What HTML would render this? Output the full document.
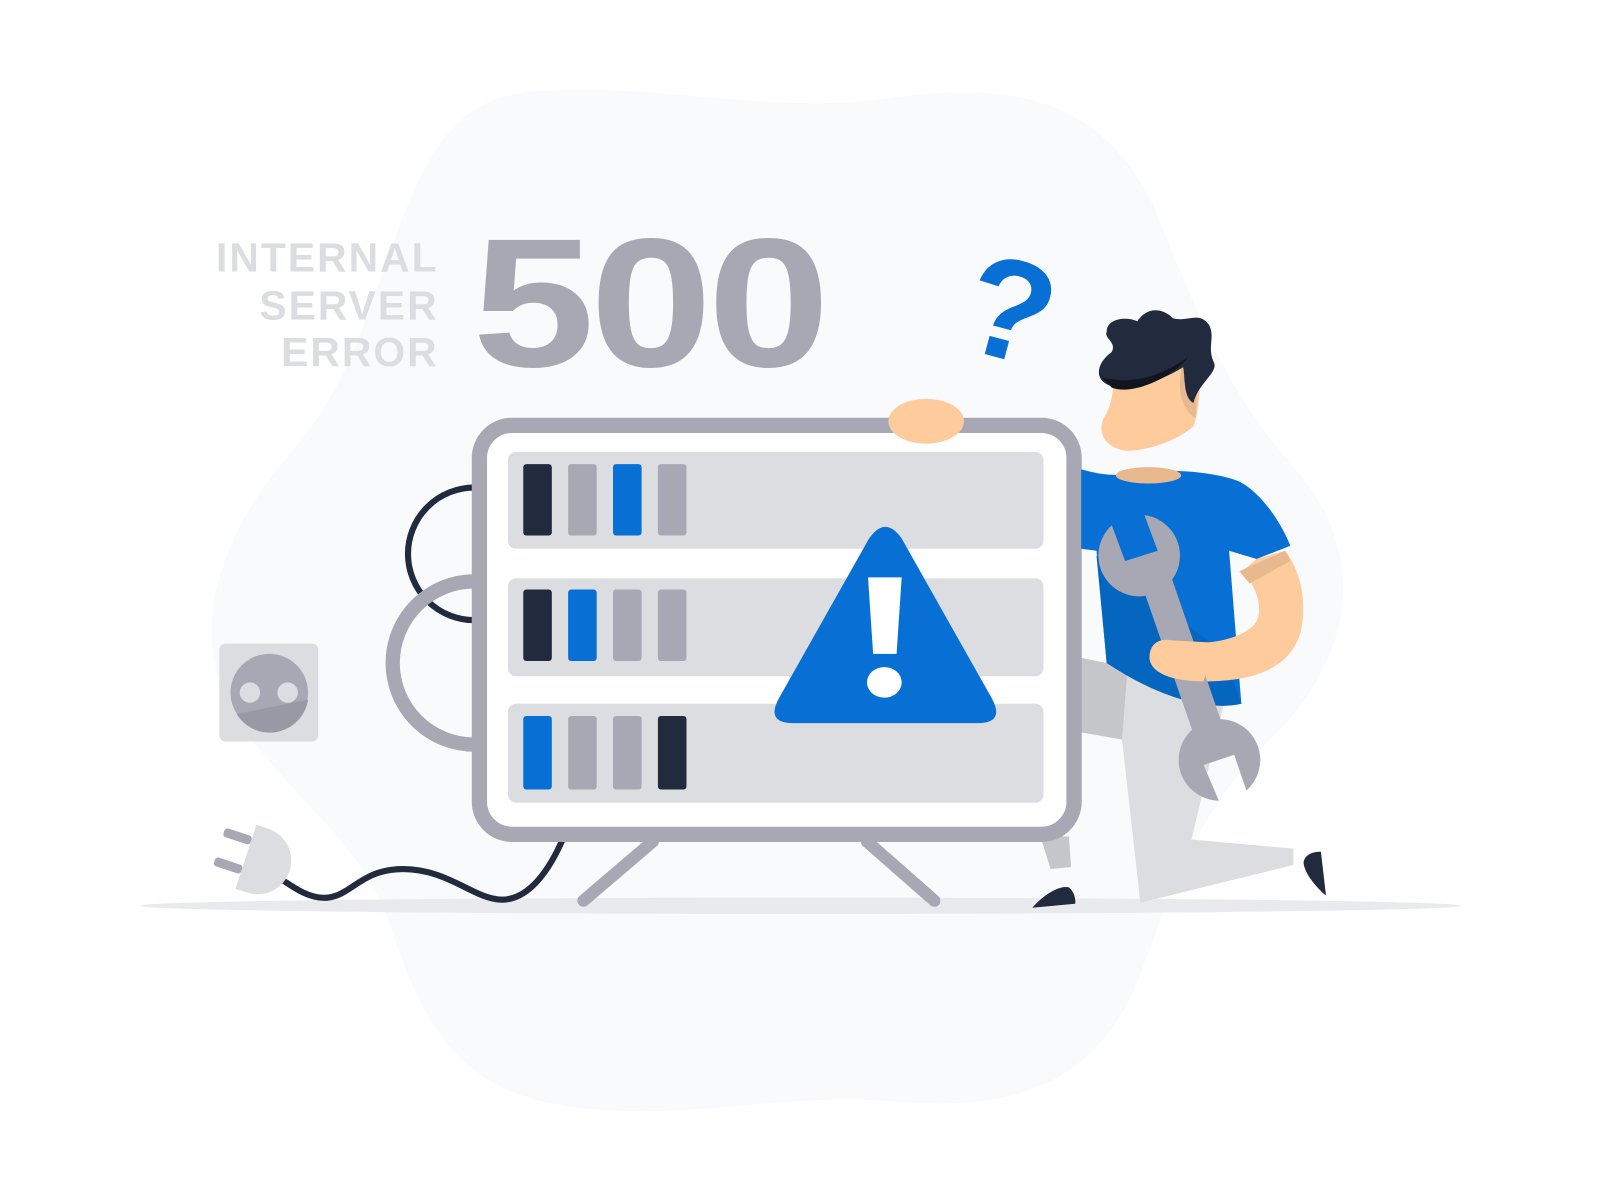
<!DOCTYPE html>
<html><head><meta charset="utf-8"><style>html,body{margin:0;padding:0;background:#fff}svg{display:block}</style></head>
<body>
<svg width="1600" height="1200" viewBox="0 0 1600 1200" xmlns="http://www.w3.org/2000/svg">
<g transform="scale(1.02)">
<!-- blob -->
<path d="M520 90 C650 80 760 115 880 95 C1000 80 1080 100 1130 200 C1180 320 1200 380 1270 460 C1340 540 1330 640 1250 720 C1170 800 1150 870 1120 950 C1080 1060 1000 1090 880 1080 C760 1070 680 1100 560 1085 C440 1070 410 990 380 900 C350 820 280 780 230 700 C180 620 220 520 280 450 C350 370 360 300 400 200 C430 130 460 95 520 90 Z" fill="#f9fafc"/>
<!-- ground -->
<ellipse cx="785" cy="888" rx="648" ry="8" fill="#e9eaee"/>
<!-- text -->
<g font-family="Liberation Sans, sans-serif" font-weight="bold" fill="#dcdde1" text-anchor="end" font-size="40" letter-spacing="2">
<text x="430" y="266">INTERNAL</text>
<text x="430" y="313">SERVER</text>
<text x="430" y="359">ERROR</text>
</g>
<text x="0" y="0" font-family="Liberation Sans, sans-serif" font-weight="bold" font-size="180" fill="#a7a8b3" text-anchor="middle" letter-spacing="-4" transform="translate(636 359) scale(1.2 1)">500</text>
<!-- question mark -->
<text x="990" y="352" font-family="Liberation Sans, sans-serif" font-weight="bold" font-size="140" fill="#0870d4" text-anchor="middle" transform="rotate(15 990 305)">?</text>
<!-- cables -->
<circle cx="465" cy="543" r="65" fill="none" stroke="#222a3e" stroke-width="6"/>
<circle cx="465" cy="650" r="80" fill="none" stroke="#a7a8b3" stroke-width="14"/>
<path d="M270 858 C290 872 305 882 322 880 C345 877 355 852 395 852 C440 852 465 882 492 882 C520 882 540 850 552 822" fill="none" stroke="#222a3e" stroke-width="6"/>
<!-- plug -->
<g transform="rotate(18 250 845)">
<rect x="212" y="822" width="28" height="9" rx="3" fill="#a7a8b3"/>
<rect x="212" y="852" width="28" height="9" rx="3" fill="#a7a8b3"/>
<path d="M240 810 L252 810 A32 32 0 0 1 252 876 L240 876 Z" fill="#dcdde1"/>
</g>
<!-- outlet -->
<rect x="215" y="631" width="97" height="96" rx="6" fill="#dcdde1"/>
<circle cx="264" cy="679" r="38" fill="#a7a8b3"/>
<path d="M232 700 A38 38 0 0 0 302 686 Z" fill="#9899a4"/>
<circle cx="245" cy="679" r="10" fill="#dcdde1"/>
<circle cx="282" cy="679" r="10" fill="#dcdde1"/>
<!-- legs of person behind -->
<path d="M1060 645 L1110 655 L1100 725 L1060 718 Z" fill="#c5c6ca"/>
<path d="M1020 820 L1048 820 L1050 850 L1030 852 Z" fill="#c5c6ca"/>
<path d="M1105 660 L1200 690 L1168 823 L1268 832 L1268 848 L1118 885 L1100 725 Z" fill="#dcdde1"/>
<path d="M1012 890 C1025 875 1040 868 1048 870 C1053 874 1055 882 1054 886 Z" fill="#222a3e"/>
<path d="M1300 878 C1290 870 1278 855 1278 845 C1280 836 1290 835 1295 835 Z" fill="#222a3e"/>
<!-- server -->
<line x1="640" y1="825" x2="572" y2="883" stroke="#a7a8b3" stroke-width="12" stroke-linecap="round"/>
<line x1="850" y1="825" x2="916" y2="883" stroke="#a7a8b3" stroke-width="12" stroke-linecap="round"/>
<rect x="470" y="417" width="583" height="401" rx="32" fill="#fff" stroke="#a7a8b3" stroke-width="15"/>
<g fill="#dcdde1">
<rect x="498" y="443" width="525" height="95" rx="8"/>
<rect x="498" y="567" width="525" height="96" rx="8"/>
<rect x="498" y="690" width="525" height="97" rx="8"/>
</g>
<g>
<rect x="513" y="455" width="28" height="70" rx="3" fill="#222a3e"/>
<rect x="557" y="455" width="28" height="70" rx="3" fill="#a7a8b3"/>
<rect x="601" y="455" width="28" height="70" rx="3" fill="#0870d4"/>
<rect x="645" y="455" width="28" height="70" rx="3" fill="#a7a8b3"/>
<rect x="513" y="578" width="28" height="70" rx="3" fill="#222a3e"/>
<rect x="557" y="578" width="28" height="70" rx="3" fill="#0870d4"/>
<rect x="601" y="578" width="28" height="70" rx="3" fill="#a7a8b3"/>
<rect x="645" y="578" width="28" height="70" rx="3" fill="#a7a8b3"/>
<rect x="513" y="702" width="28" height="72" rx="3" fill="#0870d4"/>
<rect x="557" y="702" width="28" height="72" rx="3" fill="#a7a8b3"/>
<rect x="601" y="702" width="28" height="72" rx="3" fill="#a7a8b3"/>
<rect x="645" y="702" width="28" height="72" rx="3" fill="#222a3e"/>
</g>
<!-- hand on server -->
<ellipse cx="908" cy="413" rx="37" ry="22" fill="#fecb9c"/>
<!-- warning -->
<path d="M852 528 Q868 505 884 528 L972 684 Q986 709 958 709 L778 709 Q750 709 764 684 Z" fill="#0870d4"/>
<path d="M851 566 L884 566 L879 641 L856 641 Z" fill="#fff"/>
<ellipse cx="867" cy="669" rx="17" ry="15" fill="#fff"/>
<!-- person torso -->
<path d="M1060 460 C1080 466 1100 468 1130 462 C1170 460 1200 466 1215 472 C1235 482 1255 510 1265 535 L1232 548 L1205 540 L1217 690 C1180 698 1130 680 1085 650 L1075 540 L1060 538 Z" fill="#0870d4"/>
<path d="M1075 545 L1200 640 L1217 690 C1180 698 1130 680 1085 650 Z" fill="#0566bf"/>
<ellipse cx="1126" cy="466" rx="32" ry="8" fill="#e8b88e"/>
<!-- arm -->
<path d="M1232 548 L1260 540 C1275 560 1282 590 1275 620 C1265 655 1230 668 1180 668 C1150 668 1128 660 1127 645 C1127 630 1138 625 1150 628 C1180 634 1215 628 1230 612 C1240 598 1232 575 1218 560 Z" fill="#fecb9c"/>
<path d="M1215 560 L1260 540 L1265 550 L1225 572 Z" fill="#e8b88e"/>
<!-- head -->
<path d="M1092 360 L1175 350 C1178 380 1175 405 1170 418 C1150 435 1120 442 1105 442 C1085 440 1075 425 1082 410 C1090 397 1092 385 1092 360 Z" fill="#fecb9c"/>
<path d="M1092 365 L1160 355 C1152 385 1160 402 1172 410 L1175 360 Z" fill="#e8b88e"/>
<path d="M1085 325 C1085 312 1105 310 1115 315 C1125 300 1140 302 1150 312 C1165 316 1175 305 1185 318 C1192 330 1183 340 1190 355 C1195 365 1175 375 1170 395 C1160 390 1162 370 1160 360 C1140 372 1110 385 1088 378 C1072 372 1075 356 1090 345 C1095 335 1082 332 1085 325 Z" fill="#222a3e"/>
<path d="M1080 370 C1110 378 1140 368 1165 350 C1150 370 1110 388 1090 380 Z" fill="#111520"/>
<!-- wrench -->
<g fill="#a7a8b3">
<path d="M1120 575 L1148 565 L1200 715 L1172 725 Z"/>
<path d="M1090 515 L1103 550 L1135 540 L1122 505 A40 40 0 1 1 1090 515 Z"/>
<path d="M1222 775 L1210 740 L1180 750 L1195 785 A40 40 0 1 1 1222 775 Z"/>
</g>
<!-- hand over wrench -->
<path d="M1150 628 C1138 625 1127 630 1127 645 C1128 660 1150 668 1180 668 L1190 630 Z" fill="#fecb9c"/>
</g>
</svg>
</body></html>
